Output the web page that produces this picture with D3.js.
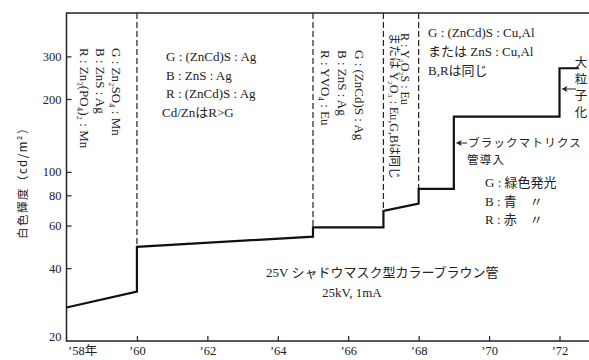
<!DOCTYPE html>
<html>
<head>
<meta charset="utf-8">
<script src="https://cdn.jsdelivr.net/npm/d3@7"></script>
<style>
  body { margin: 0; background: #fff; }
  svg { display: block; }
  text { font-family: "Liberation Serif", "Noto Sans CJK JP", serif; fill: #222; }
  .jp { font-family: "Noto Sans CJK JP", sans-serif; }
</style>
</head>
<body>
<div id="chart"></div>
<script>
/**
 * Data.
 */
var years = [58, 60, 60, 65, 65, 67, 67, 68, 68, 69, 69, 72, 72, 72.55]; // step points
var luminance = [27.5, 32, 49, 54, 59, 59, 69, 74, 85, 85, 169, 169, 268, 268]; // cd/m2
var eraBounds = [60, 65, 67, 68]; // dashed separators
var yTicks = [20, 40, 60, 80, 100, 200, 300];
var xTicks = [58, 60, 62, 64, 66, 68, 70, 72];
var xTickLabels = ["’58年", "’60", "’62", "’64", "’66", "’68", "’70", "’72"];

var era1 = ["G : Zn₂SO₄ : Mn", "B : ZnS : Ag", "R : Zn₃(PO₄)₂ : Mn"];
var era2 = ["G : (ZnCd)S : Ag", "B : ZnS : Ag", "R : (ZnCd)S : Ag", "Cd/ZnはR>G"];
var era3 = ["G : (ZnCd)S : Ag", "B : ZnS : Ag", "R : YVO₄ : Eu"];
var era4 = ["R : Y₂O₂S : Eu", "または Y₂O₃ : Eu,G,Bは同じ"];
var era5 = ["G : (ZnCd)S : Cu,Al", "または ZnS : Cu,Al", "B,Rは同じ"];
var legendLines = ["G : 緑色発光", "B : 青　〃", "R : 赤　〃"];
var blackMatrixNote = ["ブラックマトリクス", "管導入"];

var width = 589, height = 360;
var frameTop = 13, rightEdge = 589;

var svg = d3.select("#chart").append("svg")
	.attr("width", width)
	.attr("height", height);

var x = d3.scaleLinear().domain([58, 72]).range([66.5, 559.5]);
var y = d3.scaleLog().domain([20, 300]).range([341, 56.4]);

// frame: top border, left and bottom axis lines
svg.append("path")
	.attr("d", "M" + rightEdge + "," + frameTop + "H" + x(58) + "V" + y(20) + "H" + rightEdge)
	.attr("fill", "none")
	.attr("stroke", "#222")
	.attr("stroke-width", 1.5);

// y axis
var yAxis = svg.append("g")
	.attr("transform", "translate(" + x(58) + ",0)")
	.call(d3.axisLeft(y).tickValues(yTicks).tickSize(-5).tickPadding(5).tickFormat(d3.format("d")));
yAxis.select(".domain").remove();
yAxis.selectAll("text").style("font-size", "12.5px").attr("fill", "#222");
yAxis.selectAll("line").attr("stroke", "#222").attr("stroke-width", 1.2);
yAxis.selectAll(".tick").filter(function (d) { return d == 20; })
	.call(function (t) {
		t.select("text").attr("dy", "-0.05em");
		t.select("line").remove();
	});

// x axis
var xAxis = svg.append("g")
	.attr("transform", "translate(0," + y(20) + ")")
	.call(d3.axisBottom(x).tickValues(xTicks).tickSize(-5).tickPadding(5)
		.tickFormat(function (d, i) { return xTickLabels[i]; }));
xAxis.select(".domain").remove();
xAxis.selectAll("text").style("font-size", "12.5px").attr("fill", "#222");
xAxis.selectAll("line").attr("stroke", "#222").attr("stroke-width", 1.2);
xAxis.selectAll(".tick").filter(function (d) { return d == 58; })
	.call(function (t) {
		t.select("line").remove();
		t.select("text").attr("text-anchor", "start").attr("x", 1);
	});

// y axis title
svg.append("text")
	.attr("class", "jp")
	.attr("transform", "translate(22,180) rotate(-90)")
	.attr("text-anchor", "middle")
	.attr("dominant-baseline", "central")
	.attr("fill", "#222")
	.style("font-size", "11.5px")
	.style("letter-spacing", "1.5px")
	.text("白色輝度（cd/m²）");

// dashed era separators, from the top border down to the curve
eraBounds.forEach(function (b) {
	var v = d3.max(luminance.filter(function (d, i) { return years[i] == b; }));
	svg.append("line")
		.attr("x1", x(b)).attr("x2", x(b))
		.attr("y1", frameTop).attr("y2", y(v))
		.attr("stroke", "#222")
		.attr("stroke-width", 1.2)
		.attr("stroke-dasharray", "6,3");
});

// luminance curve
var line = d3.line()
	.x(function (d, i) { return x(years[i]); })
	.y(function (d) { return y(d); });

svg.append("path")
	.datum(luminance)
	.attr("d", line)
	.attr("fill", "none")
	.attr("stroke", "#111")
	.attr("stroke-width", 2.2);

// vertical phosphor notes (rotated clockwise), one text block per era
function verticalBlock(lines, cx, top, size, gap) {
	var t = svg.append("text")
		.attr("transform", "translate(" + cx + "," + top + ") rotate(90)")
		.attr("dominant-baseline", "central")
		.style("font-size", size + "px");
	lines.forEach(function (s, i) {
		t.append("tspan")
			.attr("x", 0)
			.attr("dy", i == 0 ? 0 : gap)
			.text(s);
	});
}
verticalBlock(era1, 117, 48, 13, 16);
verticalBlock(era3, 360, 50, 13, 17);
verticalBlock(era4, 405, 33, 12, 11);

function horizontalBlock(lines, x0, top, size, gap, cls) {
	var t = svg.append("text")
		.attr("y", top)
		.style("font-size", size + "px");
	if (cls) t.attr("class", cls);
	lines.forEach(function (s, i) {
		t.append("tspan")
			.attr("x", Array.isArray(x0) ? x0[i] : x0)
			.attr("dy", i == 0 ? 0 : gap)
			.text(s);
	});
	return t;
}
horizontalBlock(era2, [166, 166, 166, 162], 61, 13, 18.5);
horizontalBlock(era5, 428, 37, 13, 19);
horizontalBlock(legendLines, 485, 187, 13, 18.5);

// tube caption
horizontalBlock(["25V シャドウマスク型カラーブラウン管", "25kV, 1mA"], [266, 322], 277, 13, 20);

// arrows
function arrow(x1, x2, yy) {
	svg.append("line")
		.attr("x1", x1).attr("x2", x2 + 3)
		.attr("y1", yy).attr("y2", yy)
		.attr("stroke", "#222").attr("stroke-width", 1);
	svg.append("path")
		.attr("d", "M" + x2 + "," + yy + "l6,-3l-1.5,3l1.5,3z")
		.attr("fill", "#222");
}

// black matrix note
arrow(467, x(69) + 2, 143);
horizontalBlock(blackMatrixNote, [468, 467], 147, 11.5, 16.5, "jp")
	.style("letter-spacing", "1.2px");

// large particle note
arrow(576, x(72) + 2, 89);
svg.append("text")
	.attr("class", "jp")
	.attr("x", 581).attr("y", 56)
	.style("writing-mode", "vertical-rl")
	.style("font-size", "12.5px")
	.style("letter-spacing", "4px")
	.text("大粒子化");
</script>
</body>
</html>
